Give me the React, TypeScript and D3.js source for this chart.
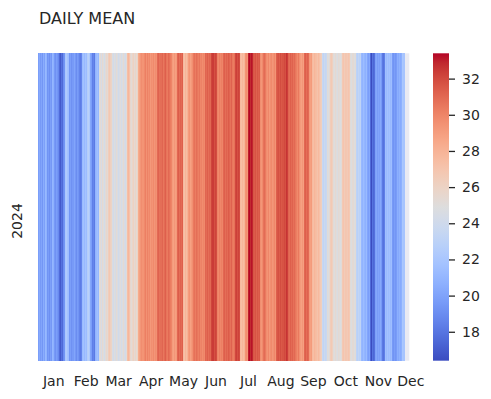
import { useRef, useEffect } from 'react';
import * as d3 from 'd3';

// daily mean values per month, 2024 (null = no data yet)
const jan = [19.8, 20.3, 19.6, 20.1, 19.4, 20.5, 19.9, 21.2, 20.8, 19.3, 19.7, 19.1, 19.9, 19.5, 21.0, 20.7, 19.6, 19.2, 19.8, 19.4, 18.9, 17.6, 16.9, 17.9, 17.5, 19.0, 19.3, 22.1, 22.4, 21.8, 21.5];
const feb = [19.4, 19.8, 19.2, 19.6, 20.1, 19.5, 19.0, 19.7, 19.3, 18.6, 18.3, 18.7, 21.3, 21.7, 21.2, 21.8, 21.4, 22.6, 22.9, 22.3, 20.2, 19.8, 18.4, 18.7, 18.2, 20.9, 21.3, 21.6, 21.1];
const mar = [24.8, 25.2, 24.5, 25.4, 24.9, 24.3, 25.1, 25.6, 25.3, 26.4, 26.8, 26.2, 25.9, 24.6, 24.2, 24.9, 24.4, 25.2, 24.7, 24.1, 24.5, 25.0, 24.3, 24.8, 25.3, 24.6, 24.2, 25.1, 27.4, 27.8, 27.2];
const apr = [25.6, 25.2, 25.8, 26.1, 25.4, 25.9, 25.3, 26.0, 28.4, 28.9, 29.3, 29.7, 29.4, 29.8, 30.2, 29.5, 30.1, 29.6, 29.9, 29.2, 29.6, 29.4, 29.8, 29.3, 29.7, 29.5, 30.9, 31.2, 30.7, 30.8];
const may = [30.8, 31.1, 30.5, 30.9, 31.3, 30.6, 30.4, 31.0, 30.7, 30.3, 30.0, 29.1, 28.8, 29.3, 28.9, 29.2, 31.0, 31.4, 30.8, 31.2, 30.9, 31.3, 27.6, 27.2, 27.9, 27.4, 28.0, 29.0, 29.4, 28.8, 29.2];
const jun = [29.6, 30.4, 30.7, 30.3, 30.8, 30.5, 30.2, 30.6, 29.9, 30.1, 29.7, 30.0, 29.8, 31.1, 30.9, 31.3, 30.8, 31.2, 31.0, 32.1, 32.4, 31.8, 32.2, 31.9, 30.1, 29.8, 30.3, 29.9, 30.2, 30.0];
const jul = [31.0, 31.3, 30.8, 31.2, 30.9, 31.4, 31.1, 30.7, 31.2, 30.5, 30.3, 30.7, 32.0, 32.3, 31.8, 32.2, 31.9, 27.6, 27.3, 27.8, 27.4, 27.9, 29.4, 29.7, 29.3, 33.0, 33.4, 32.8, 33.2, 32.9, 31.6];
const aug = [31.4, 31.7, 31.2, 31.6, 31.3, 31.5, 29.6, 29.3, 29.8, 30.6, 30.9, 30.4, 29.7, 29.4, 29.9, 29.2, 29.6, 29.8, 29.3, 29.5, 29.9, 29.4, 31.3, 31.6, 31.8, 31.4, 31.9, 31.5, 31.7, 32.0, 31.8];
const sep = [32.6, 32.3, 31.1, 30.8, 31.3, 30.9, 31.2, 30.7, 31.0, 30.5, 30.2, 29.8, 30.4, 29.6, 29.1, 28.8, 29.3, 28.9, 31.0, 31.3, 30.8, 31.2, 30.9, 29.2, 28.9, 29.1, 27.6, 27.3, 27.8, 27.5];
const oct = [27.4, 27.1, 27.6, 27.2, 26.6, 26.3, 23.6, 23.2, 23.8, 23.4, 23.7, 25.1, 24.8, 25.3, 26.4, 26.7, 26.2, 25.2, 24.9, 25.4, 25.0, 24.7, 25.3, 25.1, 24.8, 25.2, 26.7, 27.0, 26.5, 26.9, 26.8];
const nov = [26.6, 27.0, 26.7, 25.1, 24.8, 25.3, 24.9, 25.2, 23.1, 22.8, 23.3, 22.9, 23.2, 21.2, 20.9, 21.4, 21.0, 20.7, 21.3, 20.1, 19.8, 20.3, 17.6, 16.4, 17.9, 17.4, 17.8, 19.9, 20.2, 19.7];
const dec = [20.1, 19.8, 20.3, 19.6, 18.2, 17.9, 18.4, 21.6, 21.3, 21.8, 21.4, 21.7, 21.2, 21.5, 19.6, 19.3, 19.8, 19.4, 19.7, 20.6, 20.3, 20.8, 20.4, 20.7, 22.1, 21.9, null, null, null, null, null];

const monthLabels = ['Jan', 'Feb', 'Mar', 'Apr', 'May', 'Jun', 'Jul', 'Aug', 'Sep', 'Oct', 'Nov', 'Dec'];
const monthTickIdx = [15, 47, 79, 111, 143, 175, 207, 239, 271, 303, 335, 367];
const cbarTicks = [18, 20, 22, 24, 26, 28, 30, 32];
const rowLabel = '2024';

// matplotlib coolwarm anchors
const coolwarm = [
  [59, 76, 192], [68, 90, 204], [77, 104, 215], [87, 117, 225], [98, 130, 234], [108, 142, 241],
  [119, 154, 247], [130, 165, 251], [141, 176, 254], [152, 185, 255], [163, 194, 255], [174, 201, 253],
  [184, 208, 249], [194, 213, 244], [204, 217, 238], [213, 219, 230], [221, 221, 221], [229, 216, 209],
  [236, 211, 197], [241, 204, 185], [245, 196, 173], [247, 187, 160], [247, 177, 148], [247, 166, 135],
  [244, 154, 123], [241, 141, 111], [236, 127, 99], [229, 112, 88], [222, 96, 77], [213, 80, 66],
  [203, 62, 56], [192, 40, 47], [180, 4, 38],
];
const cwColors = coolwarm.map(([r, g, b]) => d3.rgb(r, g, b).formatHex());
const cw = d3.scaleLinear<string>()
  .domain(cwColors.map((_, i) => i / (cwColors.length - 1)))
  .range(cwColors)
  .interpolate(d3.interpolateRgb)
  .clamp(true);

const TEXT = '#262626';
const FONT = '"DejaVu Sans", sans-serif';

export default function App() {
  const ref = useRef<SVGSVGElement>(null);

  useEffect(() => {
    if (!ref.current) return;
    const days = [...jan, ...feb, ...mar, ...apr, ...may, ...jun, ...jul, ...aug, ...sep, ...oct, ...nov, ...dec];
    const valid = days.filter((d) => d != null) as number[];
    const [vmin, vmax] = d3.extent(valid) as [number, number];

    const svg = d3.select(ref.current);
    svg.selectAll('*').remove();

    const left = 38, right = 409.3, top = 53.3, bottom = 360.7;
    const x = d3.scaleLinear().domain([0, days.length]).range([left, right]);
    const norm = d3.scaleLinear().domain([vmin, vmax]).range([0, 1]);

    svg.append('text')
      .attr('x', 39).attr('y', 24)
      .attr('font-size', 16).attr('fill', TEXT).attr('font-family', FONT)
      .text('DAILY MEAN');

    // NaN background
    svg.append('rect')
      .attr('x', left).attr('y', top)
      .attr('width', right - left).attr('height', bottom - top)
      .attr('fill', '#eaeaf2');

    svg.append('g')
      .attr('shape-rendering', 'crispEdges')
      .selectAll('rect')
      .data(days.map((v, i) => ({ v, i })).filter((d) => d.v != null))
      .join('rect')
      .attr('x', (d) => x(d.i))
      .attr('y', top)
      .attr('width', (d) => x(d.i + 1) - x(d.i) + 0.3)
      .attr('height', bottom - top)
      .attr('fill', (d) => cw(norm(d.v as number)));

    // month labels
    svg.append('g')
      .selectAll('text')
      .data(monthLabels)
      .join('text')
      .attr('x', (_, i) => x(monthTickIdx[i] + 0.5))
      .attr('y', 386)
      .attr('text-anchor', 'middle')
      .attr('font-size', 14).attr('fill', TEXT).attr('font-family', FONT)
      .text((d) => d);

    svg.append('text')
      .attr('transform', `translate(22,221) rotate(-90)`)
      .attr('text-anchor', 'middle')
      .attr('font-size', 14).attr('fill', TEXT).attr('font-family', FONT)
      .text(rowLabel);

    // colorbar
    const cbX = 433, cbW = 16;
    const cy = d3.scaleLinear().domain([vmin, vmax]).range([bottom, top]);
    const grad = svg.append('defs').append('linearGradient')
      .attr('id', 'cbgrad').attr('x1', 0).attr('y1', 1).attr('x2', 0).attr('y2', 0);
    grad.selectAll('stop')
      .data(cwColors)
      .join('stop')
      .attr('offset', (_, i) => i / (cwColors.length - 1))
      .attr('stop-color', (d) => d);
    svg.append('rect')
      .attr('x', cbX).attr('y', top)
      .attr('width', cbW).attr('height', bottom - top)
      .attr('fill', 'url(#cbgrad)');

    const axis = svg.append('g')
      .attr('transform', `translate(${cbX + cbW},0)`)
      .call(d3.axisRight(cy).tickValues(cbarTicks).tickSize(6).tickPadding(7).tickFormat(d3.format('d')));
    axis.select('.domain').remove();
    axis.selectAll('line').attr('stroke', TEXT).attr('stroke-width', 1.3);
    axis.selectAll('text')
      .attr('font-size', 14).attr('fill', TEXT).attr('font-family', FONT);
  }, []);

  return <svg ref={ref} width={491} height={399} style={{ display: 'block', margin: '-8px' }} />;
}
